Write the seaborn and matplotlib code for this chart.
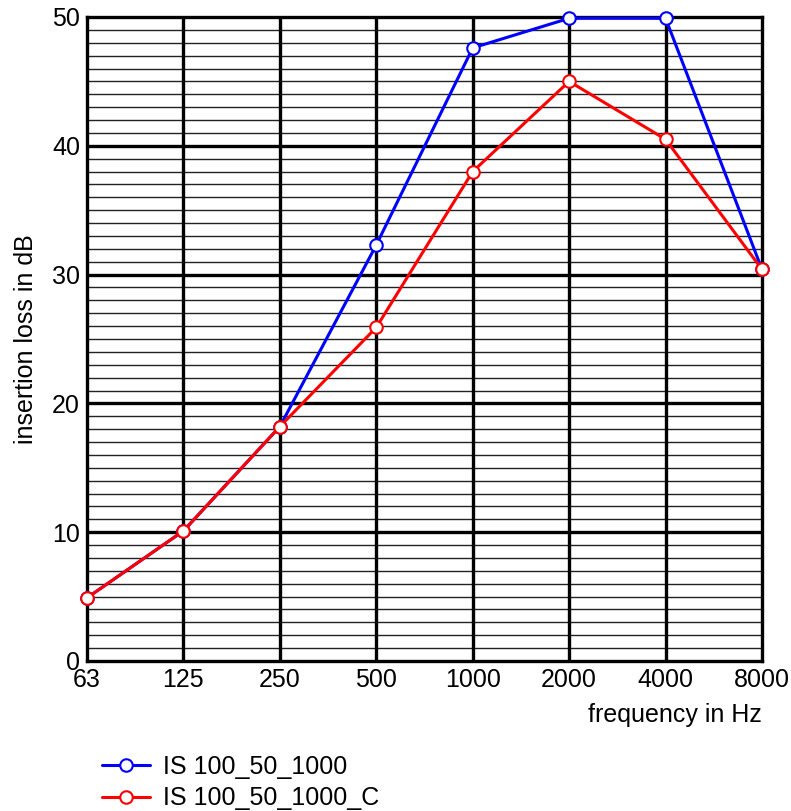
import numpy as np
import pandas as pd
import matplotlib
matplotlib.use("Agg")
import matplotlib.pyplot as plt
import seaborn as sns

freqs = ["63", "125", "250", "500", "1000", "2000", "4000", "8000"]
is_plain = [4.9, 10.1, 18.2, 32.3, 47.6, 49.9, 49.9, 30.4]
is_c = [4.9, 10.1, 18.2, 25.9, 38.0, 45.0, 40.5, 30.4]
series_names = ["IS 100_50_1000", "IS 100_50_1000_C"]
series_colors = ["#0000ff", "#ff0000"]

df = pd.DataFrame({
    "pos": list(range(len(freqs))) * 2,
    "value": is_plain + is_c,
    "series": [series_names[0]] * len(freqs) + [series_names[1]] * len(freqs),
})

sns.set_style("white")
plt.rcParams["font.family"] = ["Liberation Sans", "DejaVu Sans"]
plt.rcParams["text.color"] = "black"
plt.rcParams["axes.labelcolor"] = "black"
plt.rcParams["xtick.color"] = "black"
plt.rcParams["ytick.color"] = "black"

fig = plt.figure(figsize=(7.91, 8.11), dpi=100)
ax = fig.add_axes([87 / 791, 1 - 661 / 811, (762 - 87) / 791, (661 - 17) / 811])

# grid: minor every 1 dB, major every 10 dB, vertical at each band
for v in range(1, 50):
    if v % 10:
        ax.axhline(v, color="#222222", lw=1.0, zorder=1)
for v in range(10, 50, 10):
    ax.axhline(v, color="black", lw=2.4, zorder=1)
for i in range(1, len(freqs) - 1):
    ax.axvline(i, color="black", lw=2.4, zorder=1)

for name, col in zip(series_names, series_colors):
    sub = df[df["series"] == name]
    sns.lineplot(data=sub, x="pos", y="value", ax=ax, color=col, lw=2.2,
                 marker="o", markersize=9, markerfacecolor="white",
                 markeredgecolor=col, markeredgewidth=1.5, label=name,
                 zorder=3, clip_on=False)

ax.set_xlim(0, len(freqs) - 1)
ax.set_ylim(0, 50)
ax.set_xticks(range(len(freqs)))
ax.set_xticklabels(freqs)
ax.set_yticks(range(0, 51, 10))
ax.tick_params(axis="both", length=0, labelsize=18, pad=5, labelcolor="black")
for s in ax.spines.values():
    s.set_visible(True)
    s.set_color("black")
    s.set_linewidth(2.4)

ax.set_xlabel("")
ax.set_ylabel("insertion loss in dB", fontsize=18, labelpad=10, color="black")
fig.text(762 / 791, 1 - 715 / 811, "frequency in Hz", ha="right", va="center",
         fontsize=18, color="black")

handles, labels = ax.get_legend_handles_labels()
ax.legend_.remove()
fig.legend(handles, labels, loc="upper left", bbox_to_anchor=(92 / 791, 1 - 745 / 811),
           frameon=False, fontsize=18, handlelength=1.9, handletextpad=0.55,
           labelspacing=0.3, borderaxespad=0, labelcolor="black")

fig.savefig("out.png", dpi=100)
